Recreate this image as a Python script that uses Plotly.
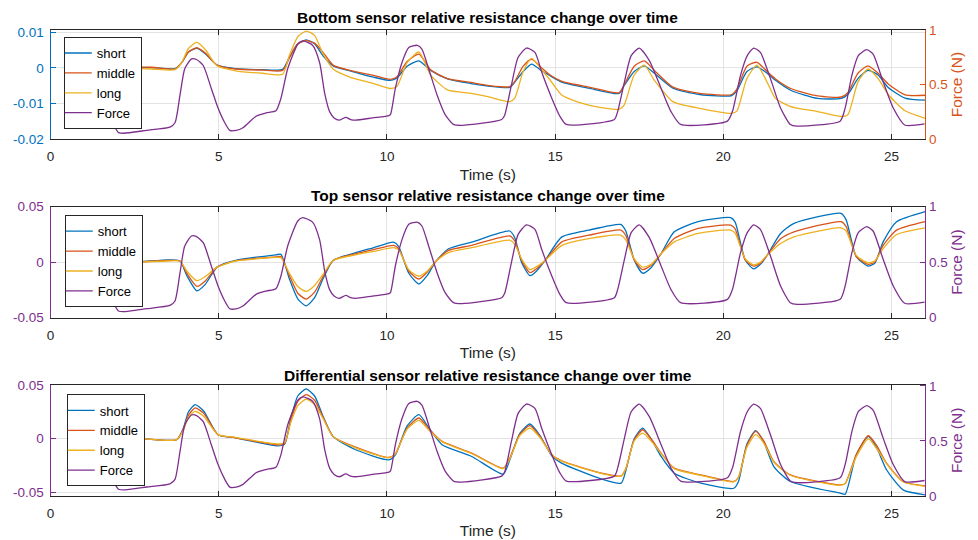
import plotly.graph_objects as go

# ---------------- data ----------------
force_t = [1.0, 1.48, 1.78, 2.02, 2.17, 2.86, 3.55, 3.7, 3.85, 3.99, 4.19, 4.34, 4.54, 4.78, 4.98, 5.18,
           5.33, 5.52, 5.72, 6.11, 6.41, 6.7, 6.85, 7.05, 7.35, 7.5, 7.79, 8.0, 8.15, 8.3, 8.43, 8.58,
           8.78, 8.92, 9.07, 9.57, 10.06, 10.11, 10.25, 10.45, 10.65, 10.9, 11.04, 11.24, 11.49, 11.73,
           11.98, 12.23, 13.41, 13.5, 13.7, 13.9, 14.15, 14.4, 14.6, 14.9, 15.14, 15.33, 16.76, 16.86,
           17.06, 17.26, 17.5, 17.8, 18.15, 18.44, 18.73, 20.12, 20.27, 20.51, 20.71, 20.9, 21.1, 21.4,
           21.7, 21.99, 22.19, 23.47, 23.62, 23.82, 24.01, 24.26, 24.45, 24.75, 25.05, 25.39, 25.98]
force_v = [0.285, 0.285, 0.18, 0.06, 0.054, 0.081, 0.11, 0.15, 0.405, 0.645, 0.735, 0.73, 0.675, 0.465, 0.285, 0.15,
           0.08, 0.08, 0.105, 0.21, 0.24, 0.26, 0.375, 0.645, 0.87, 0.9, 0.86, 0.7, 0.42, 0.25, 0.195, 0.174,
           0.2, 0.18, 0.174, 0.195, 0.216, 0.23, 0.465, 0.705, 0.84, 0.86, 0.825, 0.645, 0.405, 0.225,
           0.135, 0.126, 0.18, 0.22, 0.495, 0.75, 0.835, 0.795, 0.615, 0.375, 0.21, 0.135, 0.18, 0.255,
           0.525, 0.765, 0.835, 0.72, 0.465, 0.255, 0.135, 0.165, 0.255, 0.585, 0.765, 0.835, 0.795, 0.555,
           0.285, 0.135, 0.12, 0.165, 0.285, 0.585, 0.765, 0.82, 0.78, 0.525, 0.285, 0.13, 0.14]

bot_t = [1.0, 2.0, 3.0, 3.7, 3.9, 4.1, 4.35, 4.6, 4.95, 5.5, 6.3, 6.9, 7.1, 7.35, 7.6, 7.85, 8.1, 8.4,
         8.9, 9.6, 10.1, 10.3, 10.6, 10.95, 11.3, 11.8, 12.5, 13.0, 13.65, 13.8, 14.05, 14.3, 14.6, 14.85,
         15.2, 16.0, 16.9, 17.05, 17.35, 17.65, 17.95, 18.5, 19.3, 20.25, 20.4, 20.7, 21.0, 21.3, 21.55,
         22.0, 22.8, 23.5, 23.7, 24.0, 24.3, 24.6, 24.9, 25.4, 26.0]
bot_short = [0, 0.0002, 0.0001, -0.0002, 0.0015, 0.0045, 0.0055, 0.004, 0.0008, -0.0002, -0.0005, -0.0004,
             0.003, 0.0068, 0.0079, 0.0068, 0.0034, 0.0006, -0.0008, -0.0026, -0.0035, -0.0028, 0.0005,
             0.002, -0.0007, -0.0031, -0.0044, -0.0051, -0.0055, -0.004, -0.001, 0.0011, -0.0008, -0.0022,
             -0.004, -0.0057, -0.0072, -0.005, -0.001, 0.0006, -0.0015, -0.0057, -0.0075, -0.0078, -0.0065,
             -0.001, 0.0003, -0.0015, -0.0035, -0.0063, -0.0086, -0.0086, -0.0075, -0.003, -0.0007, -0.002,
             -0.0055, -0.0085, -0.0091]
bot_middle = [0, 0.0001, 0.0002, -0.0003, 0.0015, 0.0045, 0.0057, 0.0042, 0.0008, -0.0003, -0.0006, -0.0007,
              0.0028, 0.0068, 0.0077, 0.007, 0.0044, 0.0008, -0.0007, -0.0021, -0.0032, -0.0025, 0.0018,
              0.0039, -0.0005, -0.003, -0.0041, -0.0049, -0.0053, -0.0038, 0.0005, 0.0025, 0.0, -0.002,
              -0.0038, -0.0054, -0.007, -0.0048, 0.0005, 0.002, -0.0007, -0.0054, -0.0072, -0.0075, -0.006,
              0.0005, 0.0016, -0.001, -0.0031, -0.0058, -0.0079, -0.0082, -0.007, -0.0015, 0.0006, -0.0015,
              -0.0045, -0.0076, -0.0077]
bot_long = [0, 0.0, -0.0003, -0.0005, 0.0015, 0.0055, 0.0072, 0.0052, 0.0006, -0.0008, -0.0015, -0.0018,
            0.0035, 0.0088, 0.0104, 0.0092, 0.004, -0.0003, -0.0026, -0.0044, -0.0058, -0.0052, 0.0015,
            0.0045, -0.002, -0.0062, -0.0072, -0.0081, -0.0095, -0.0085, -0.001, 0.0027, -0.0005, -0.0034,
            -0.0077, -0.0105, -0.0117, -0.0105, -0.002, 0.0008, -0.0035, -0.0095, -0.0114, -0.0128, -0.0122,
            -0.003, 0.0008, -0.004, -0.0086, -0.0109, -0.0123, -0.0137, -0.0132, -0.004, -0.0003, -0.003,
            -0.0075, -0.0121, -0.0142]

top_t = [1.0, 2.5, 3.5, 3.85, 4.05, 4.35, 4.6, 4.95, 5.5, 6.7, 6.85, 7.1, 7.35, 7.6, 7.85, 8.1, 8.4, 9.07,
         9.57, 10.2, 10.35, 10.65, 10.95, 11.2, 11.45, 11.83, 12.52, 13.65, 13.8, 14.0, 14.25, 14.45, 14.7,
         15.2, 16.0, 16.95, 17.1, 17.35, 17.6, 17.85, 18.15, 18.54, 19.25, 20.22, 20.35, 20.65, 20.9, 21.1,
         21.3, 21.7, 22.1, 23.5, 23.65, 23.95, 24.3, 24.5, 24.75, 25.15, 26.0]
top_short = [0, 0.0, 0.002, 0.001, -0.012, -0.0258, -0.02, -0.0045, 0.0015, 0.0066, 0.007, -0.015, -0.033,
             -0.0394, -0.032, -0.015, 0.0015, 0.0085, 0.0127, 0.018, 0.014, -0.01, -0.0197, -0.012, 0.0005,
             0.012, 0.018, 0.028, 0.022, 0.0, -0.0122, -0.008, 0.0015, 0.0227, 0.0288, 0.0339, 0.028, 0.002,
             -0.01, -0.005, 0.0076, 0.0273, 0.0364, 0.040, 0.036, 0.002, -0.0061, -0.002, 0.0061, 0.0258,
             0.0348, 0.0439, 0.038, 0.005, -0.0036, -0.001, 0.0182, 0.0364, 0.0455]
top_middle = [0, 0.0, 0.0015, 0.001, -0.01, -0.0218, -0.017, -0.0045, 0.0012, 0.0048, 0.005, -0.012, -0.028,
              -0.0333, -0.027, -0.013, 0.0015, 0.0075, 0.011, 0.0151, 0.012, -0.008, -0.0152, -0.009, 0.0005,
              0.0105, 0.0151, 0.0236, 0.019, 0.002, -0.0094, -0.006, 0.0015, 0.0182, 0.0242, 0.0288, 0.024,
              0.002, -0.0067, -0.003, 0.0076, 0.0212, 0.0303, 0.0333, 0.030, 0.002, -0.0036, -0.001, 0.0061,
              0.021, 0.0273, 0.0364, 0.032, 0.005, -0.002, 0.0, 0.015, 0.0288, 0.0364]
top_long = [0, 0.0, 0.001, 0.001, -0.008, -0.0167, -0.013, -0.0045, 0.001, 0.0042, 0.004, -0.01, -0.022,
            -0.0264, -0.021, -0.011, 0.0015, 0.0066, 0.0094, 0.013, 0.011, -0.007, -0.0127, -0.008, 0.0005,
            0.0085, 0.013, 0.0197, 0.016, 0.003, -0.0067, -0.004, 0.0015, 0.0151, 0.0212, 0.0242, 0.02, 0.003,
            -0.0045, -0.002, 0.0076, 0.0182, 0.0258, 0.0288, 0.026, 0.003, -0.0024, 0.0, 0.0061, 0.0167,
            0.0227, 0.0309, 0.028, 0.006, -0.0006, 0.001, 0.0121, 0.0248, 0.0309]

dif_t = [1.0, 2.5, 3.75, 3.95, 4.1, 4.3, 4.55, 4.98, 5.5, 6.7, 6.95, 7.15, 7.35, 7.6, 7.85, 8.1, 8.4, 9.07,
         10.06, 10.25, 10.6, 10.95, 11.25, 11.64, 12.52, 13.46, 13.65, 13.95, 14.25, 14.55, 14.9, 15.19,
         16.38, 16.96, 17.1, 17.35, 17.6, 17.85, 18.15, 18.54, 19.33, 20.31, 20.45, 20.7, 20.96, 21.2, 21.5,
         21.99, 23.47, 23.62, 23.95, 24.31, 24.55, 24.85, 25.34, 26.0]
dif_short = [0, 0.0005, -0.0009, 0.01, 0.025, 0.0319, 0.026, 0.0038, 0.0009, -0.0066, -0.0055, 0.02, 0.04,
             0.0466, 0.04, 0.021, 0.002, -0.0103, -0.0197, -0.015, 0.012, 0.0225, 0.01, -0.0056, -0.0166,
             -0.0331, -0.02, 0.005, 0.0138, 0.003, -0.016, -0.0228, -0.0378, -0.0416, -0.03, 0.0, 0.01, 0.0,
             -0.0166, -0.0322, -0.0416, -0.0463, -0.04, -0.005, 0.0075, -0.003, -0.026, -0.040, -0.0509,
             -0.052, -0.015, 0.0022, -0.008, -0.029, -0.0478, -0.0525]
dif_middle = [0, 0.0005, -0.0009, 0.009, 0.022, 0.0288, 0.024, 0.0038, 0.0009, -0.0056, -0.005, 0.018, 0.035,
              0.0413, 0.036, 0.02, 0.002, -0.0078, -0.0175, -0.014, 0.010, 0.0194, 0.009, -0.0025, -0.0134,
              -0.0275, -0.018, 0.004, 0.0122, 0.002, -0.015, -0.0206, -0.0322, -0.0347, -0.028, -0.001, 0.0084,
              0.0, -0.0134, -0.0275, -0.0338, -0.040, -0.036, -0.006, 0.0069, -0.002, -0.0213, -0.0338,
              -0.0431, -0.042, -0.015, 0.0028, -0.006, -0.0228, -0.040, -0.0441]
dif_long = [0, 0.0005, -0.0009, 0.008, 0.02, 0.0256, 0.021, 0.0038, 0.0012, -0.0047, -0.004, 0.016, 0.031,
            0.0372, 0.032, 0.019, 0.002, -0.0085, -0.0178, -0.014, 0.009, 0.0172, 0.008, -0.0028, -0.0138,
            -0.028, -0.019, 0.003, 0.01, 0.001, -0.015, -0.021, -0.0325, -0.035, -0.028, -0.002, 0.0053,
            -0.002, -0.0138, -0.028, -0.0342, -0.0403, -0.036, -0.008, 0.0038, -0.004, -0.0218, -0.0342,
            -0.0435, -0.042, -0.017, 0.0, -0.009, -0.0232, -0.0403, -0.0445]

titles = ["Bottom sensor relative resistance change over time",
          "Top sensor relative resistance change over time",
          "Differential sensor relative resistance change over time"]
series_names = ["short", "middle", "long", "Force"]
x_ticks = [0, 5, 10, 15, 20, 25]
bot_yticks = [-0.02, -0.01, 0, 0.01]
bot_ytext = ["-0.02", "-0.01", "0", "0.01"]
tb_yticks = [-0.05, 0, 0.05]
tb_ytext = ["-0.05", "0", "0.05"]
force_ticks = [0, 0.5, 1]
force_text = ["0", "0.5", "1"]

# ---------------- style / layout ----------------
C_BLUE = "#0072BD"
C_ORANGE = "#D95319"
C_YELLOW = "#EDB120"
C_PURPLE = "#7E2F8E"
DARK = "#262626"
GRID = "#e3e3e3"
FONT = "Liberation Sans, Arial, sans-serif"
W, H = 978, 540
VS, VO = 0.971, 8.0   # vertical placement calibration of the photographed page


def px_x(px):
    return px / W


def px_y(py):
    return 1 - ((py - VO) / VS) / H


X0, X1 = px_x(46.7), px_x(925)
panels_px = [(31, 140), (207.3, 318.3), (385.3, 496.3)]
domains = [[px_y(b), px_y(t)] for (t, b) in panels_px]

panel_data = [
    (bot_t, [bot_short, bot_middle, bot_long], [-0.0201, 0.0107], bot_yticks, bot_ytext, C_BLUE, C_ORANGE),
    (top_t, [top_short, top_middle, top_long], [-0.05, 0.05], tb_yticks, tb_ytext, C_PURPLE, C_PURPLE),
    (dif_t, [dif_short, dif_middle, dif_long], [-0.0535, 0.0505], tb_yticks, tb_ytext, C_PURPLE, C_PURPLE),
]
force_ranges = [[0, 1.0], [0, 1.0], [0, 1.01]]
legend_pos = [(60, 38), (61, 216), (63, 395)]
title_y = [18, 196, 376]

fig = go.Figure()
layout = dict(
    width=W, height=H, margin=dict(l=0, r=0, t=0, b=0),
    paper_bgcolor="white", plot_bgcolor="white",
    font=dict(family=FONT, size=13, color=DARK),
    showlegend=True,
)

for i, (tt, sens, yr, yt, ytx, lcol, rcol) in enumerate(panel_data):
    n = i + 1
    xa = "x" if n == 1 else f"x{n}"
    yl = f"y{2 * n - 1}" if n > 1 else "y"
    yr_name = f"y{2 * n}"
    leg = "legend" if n == 1 else f"legend{n}"
    for s_vals, name, col in zip(sens, series_names[:3], [C_BLUE, C_ORANGE, C_YELLOW]):
        fig.add_trace(go.Scatter(x=tt, y=s_vals, name=name, mode="lines",
                                 line=dict(color=col, width=1.3, shape="spline", smoothing=0.6),
                                 xaxis=xa, yaxis=yl, legend=leg))
    fig.add_trace(go.Scatter(x=force_t, y=force_v, name=series_names[3], mode="lines",
                             line=dict(color=C_PURPLE, width=1.3, shape="spline", smoothing=0.6),
                             xaxis=xa, yaxis=yr_name, legend=leg))

    xkey = "xaxis" if n == 1 else f"xaxis{n}"
    ylkey = "yaxis" if n == 1 else f"yaxis{2 * n - 1}"
    yrkey = f"yaxis{2 * n}"
    layout[xkey] = dict(
        domain=[X0, X1], anchor=yl, range=[0, 26], tickvals=x_ticks,
        ticks="inside", ticklen=5, tickcolor=DARK, showline=True, linecolor=DARK, linewidth=1,
        mirror="ticks", showgrid=True, gridcolor=GRID, zeroline=False,
        tickfont=dict(size=13.5, color=DARK), ticklabelstandoff=5,
        title=dict(text="Time (s)", font=dict(size=15.5, color=DARK), standoff=5),
    )
    layout[ylkey] = dict(
        domain=domains[i], anchor=xa, range=yr, tickvals=yt, ticktext=ytx,
        ticks="inside", ticklen=5, tickcolor=lcol, showline=True, linecolor=lcol, linewidth=1,
        showgrid=True, gridcolor=GRID, zeroline=False,
        tickfont=dict(size=13.5, color=lcol), ticklabelstandoff=3,
    )
    layout[yrkey] = dict(
        domain=domains[i], anchor=xa, overlaying=yl, side="right", range=force_ranges[i],
        tickvals=force_ticks, ticktext=force_text,
        ticks="inside", ticklen=5, tickcolor=rcol, showline=True, linecolor=rcol, linewidth=1,
        showgrid=False, zeroline=False,
        tickfont=dict(size=13.5, color=rcol),
        title=dict(text="Force (N)", font=dict(size=15.5, color=rcol), standoff=4),
    )
    lx, ly = legend_pos[i]
    layout[leg] = dict(
        x=px_x(lx), y=px_y(ly), xanchor="left", yanchor="top",
        bgcolor="white", bordercolor=DARK, borderwidth=1,
        font=dict(size=13, color="black"), tracegroupgap=0, itemwidth=30, indentation=-8,
    )

fig.update_layout(**layout)

for i, ttl in enumerate(titles):
    fig.add_annotation(text=f"<b>{ttl}</b>", x=(X0 + X1) / 2, y=px_y(title_y[i]),
                       xref="paper", yref="paper", xanchor="center", yanchor="middle",
                       showarrow=False, font=dict(size=15.5, color="black", family=FONT))

fig.write_html("out.html")
